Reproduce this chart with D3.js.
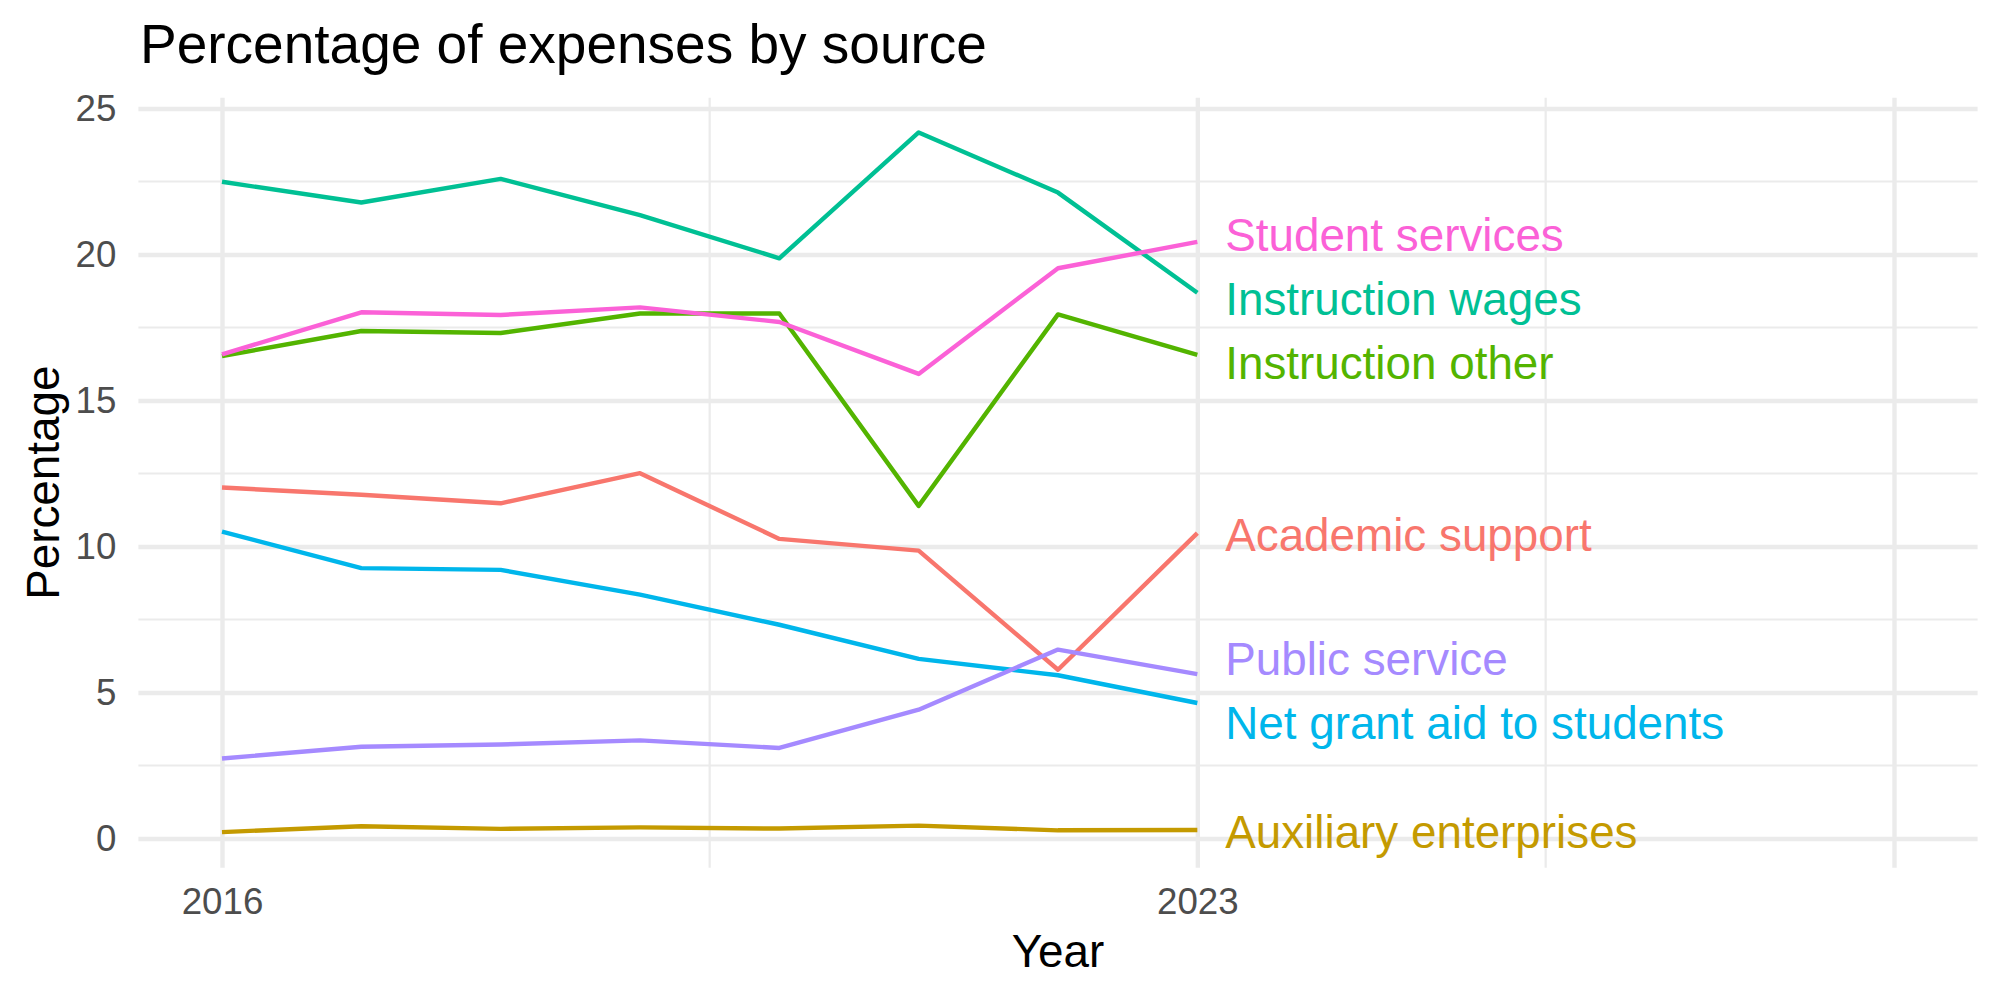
<!DOCTYPE html>
<html>
<head>
<meta charset="utf-8">
<script src="https://cdn.jsdelivr.net/npm/d3@7"></script>
<style>
  body { margin: 0; background: #ffffff; }
  text { font-family: "Liberation Sans", Arial, sans-serif; }
</style>
</head>
<body>
<div id="chart"></div>
<script>
//Years on the x axis
var years = [2016, 2017, 2018, 2019, 2020, 2021, 2022, 2023];

//The sources, in the order of the colour palette
var sources = ["Academic support", "Auxiliary enterprises", "Instruction other", "Instruction wages",
    "Net grant aid to students", "Public service", "Student services"];
var colors = ["#F8766D", "#C49A00", "#53B400", "#00C094", "#00B6EB", "#A58AFF", "#FB61D7"];

//Percentage of expenses for each source, one value per year
var academicSupport = [12.02, 11.77, 11.48, 12.51, 10.26, 9.86, 5.78, 10.46];
var auxiliaryEnterprises = [0.22, 0.42, 0.33, 0.38, 0.34, 0.44, 0.28, 0.29];
var instructionOther = [16.52, 17.38, 17.31, 17.98, 17.98, 11.39, 17.95, 16.56];
var instructionWages = [22.49, 21.78, 22.59, 21.35, 19.87, 24.18, 22.12, 18.69];
var netGrantAid = [10.51, 9.26, 9.20, 8.35, 7.32, 6.15, 5.59, 4.64];
var publicService = [2.74, 3.14, 3.22, 3.36, 3.10, 4.41, 6.47, 5.63];
var studentServices = [16.58, 18.02, 17.93, 18.19, 17.69, 15.91, 19.53, 20.43];

//Axis breaks
var xBreaks = [2016, 2023, 2028];
var xLabels = ["2016", "2023", ""];
var xMinor = [2019.5, 2025.5];
var yBreaks = [0, 5, 10, 15, 20, 25];
var yMinor = [2.5, 7.5, 12.5, 17.5, 22.5];

var seriesValues = [academicSupport, auxiliaryEnterprises, instructionOther, instructionWages,
    netGrantAid, publicService, studentServices];

var series = sources.map(function (s, i) {
    return {
        name: s,
        color: colors[i],
        points: years.map(function (y, j) { return { year: y, value: seriesValues[i][j] }; })
    };
});

var width = 2000, height = 1000;
var panel = { left: 138.4, right: 1977.6, top: 97.7, bottom: 867.7 };

var svg = d3.select("#chart")
    .append("svg")
    .attr("width", width)
    .attr("height", height);

svg.append("rect").attr("width", width).attr("height", height).attr("fill", "#ffffff");

//Scales, with ggplot style 5% expansion
var x = d3.scaleLinear().domain([2015.4, 2028.6]).range([panel.left, panel.right]);
var y = d3.scaleLinear().domain([-1.0, 25.37]).range([panel.bottom, panel.top]);

var grid = svg.append("g");

//Minor grid lines first
grid.selectAll(".ymin").data(yMinor).enter().append("line")
    .attr("x1", panel.left).attr("x2", panel.right)
    .attr("y1", function (d) { return y(d); }).attr("y2", function (d) { return y(d); })
    .attr("stroke", "#EBEBEB").attr("stroke-width", 2.2);

grid.selectAll(".xmin").data(xMinor).enter().append("line")
    .attr("y1", panel.top).attr("y2", panel.bottom)
    .attr("x1", function (d) { return x(d); }).attr("x2", function (d) { return x(d); })
    .attr("stroke", "#EBEBEB").attr("stroke-width", 2.2);

//Major grid lines with the axes
var yAxis = svg.append("g")
    .attr("transform", "translate(" + panel.left + ",0)")
    .call(d3.axisLeft(y).tickValues(yBreaks).tickSize(-(panel.right - panel.left)).tickPadding(22));

var xAxis = svg.append("g")
    .attr("transform", "translate(0," + panel.bottom + ")")
    .call(d3.axisBottom(x).tickValues(xBreaks)
        .tickFormat(function (d, i) { return xLabels[i]; })
        .tickSize(-(panel.bottom - panel.top)).tickPadding(20));

[yAxis, xAxis].forEach(function (a) {
    a.select(".domain").remove();
    a.selectAll(".tick line").attr("stroke", "#EBEBEB").attr("stroke-width", 4.4);
    a.selectAll(".tick text")
        .attr("fill", "#4D4D4D")
        .attr("font-size", "36.7px")
        .attr("font-family", "Liberation Sans, Arial, sans-serif");
});
xAxis.selectAll(".tick text").attr("dy", "0.71em");

//The lines
var line = d3.line()
    .x(function (d) { return x(d.year); })
    .y(function (d) { return y(d.value); });

svg.selectAll(".series").data(series).enter().append("path")
    .attr("d", function (d) { return line(d.points); })
    .attr("fill", "none")
    .attr("stroke", function (d) { return d.color; })
    .attr("stroke-width", 4.4)
    .attr("stroke-linejoin", "round");

//End labels, pushed apart a little so they don't overlap
var labels = series.map(function (d) {
    return { name: d.name, color: d.color, pos: y(d.points[d.points.length - 1].value) };
});
labels.sort(function (a, b) { return a.pos - b.pos; });
var minGap = 64;
for (var k = 0; k < 200; k++) {
    for (var i = 1; i < labels.length; i++) {
        var gap = labels[i].pos - labels[i - 1].pos;
        if (gap < minGap) {
            var push = (minGap - gap) / 2;
            labels[i].pos += push;
            labels[i - 1].pos -= push;
        }
    }
}

svg.selectAll(".label").data(labels).enter().append("text")
    .attr("x", x(2023.2))
    .attr("y", function (d) { return d.pos; })
    .attr("dy", "0.4em")
    .attr("fill", function (d) { return d.color; })
    .attr("font-size", "45.8px")
    .text(function (d) { return d.name; });

//Titles
svg.append("text")
    .attr("x", 140)
    .attr("y", 62.7)
    .attr("font-size", "55px")
    .attr("fill", "#000000")
    .text("Percentage of expenses by source");

svg.append("text")
    .attr("x", (panel.left + panel.right) / 2)
    .attr("y", 966.7)
    .attr("text-anchor", "middle")
    .attr("font-size", "45.8px")
    .attr("fill", "#000000")
    .text("Year");

svg.append("text")
    .attr("transform", "translate(59," + ((panel.top + panel.bottom) / 2) + ") rotate(-90)")
    .attr("text-anchor", "middle")
    .attr("font-size", "45.8px")
    .attr("fill", "#000000")
    .text("Percentage");
</script>
</body>
</html>
